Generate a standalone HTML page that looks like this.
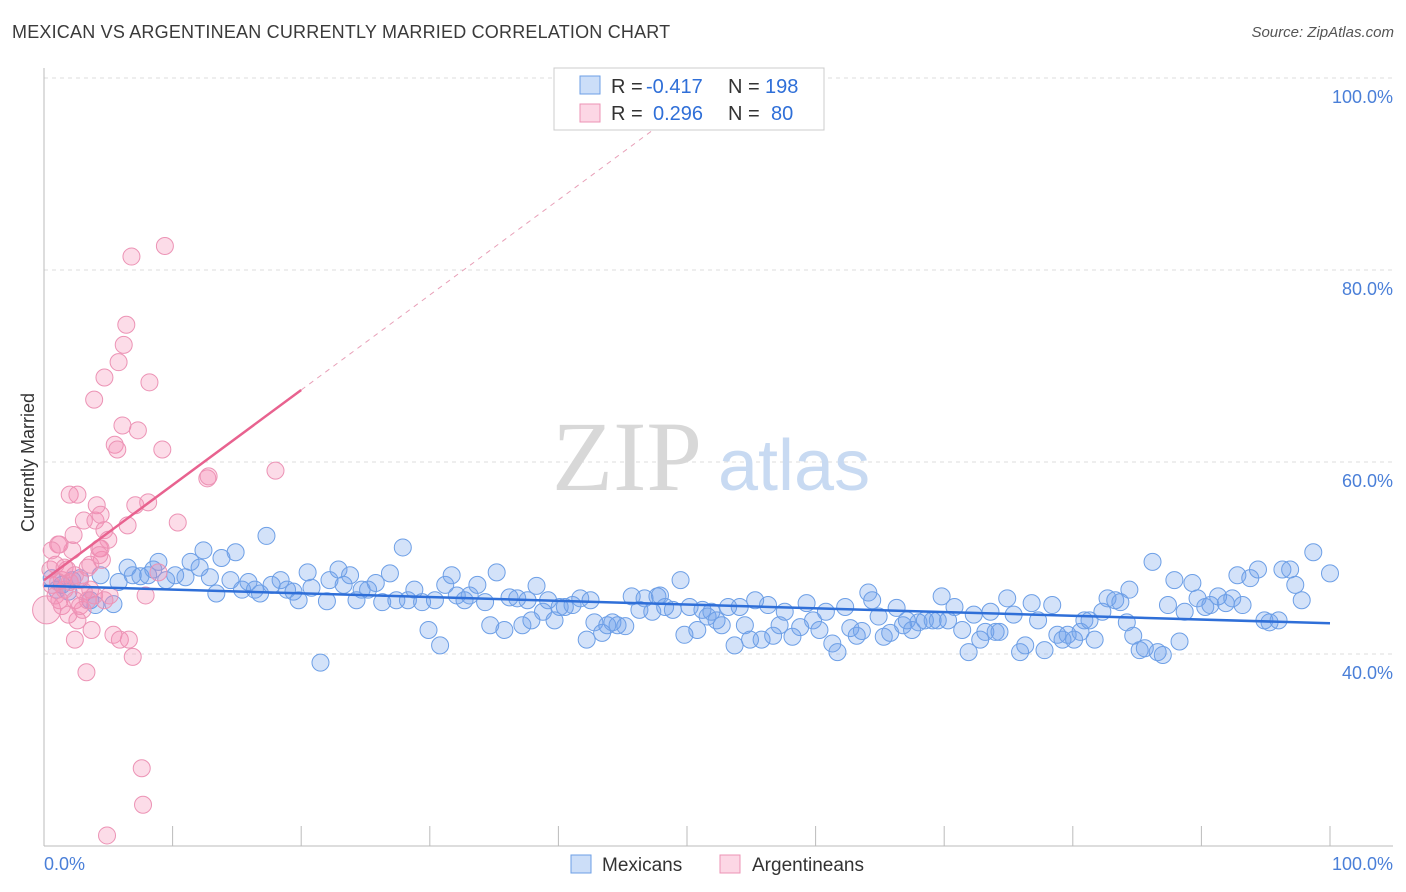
<!DOCTYPE html>
<html><head><meta charset="utf-8">
<style>
body{margin:0;background:#fff;font-family:"Liberation Sans",sans-serif;}
#wrap{position:relative;width:1406px;height:892px;overflow:hidden;}
.t{position:absolute;white-space:nowrap;}
</style></head>
<body>
<div id="wrap">
<div class="t" style="left:12px;top:22px;font-size:18px;color:#3a3a3a;letter-spacing:0.2px">MEXICAN VS ARGENTINEAN CURRENTLY MARRIED CORRELATION CHART</div>
<div class="t" style="right:12px;top:24px;font-size:15px;color:#555;font-style:italic">Source: ZipAtlas.com</div>
<div class="t" style="left:18px;top:532px;font-size:18px;color:#333;transform:rotate(-90deg);transform-origin:0 0">Currently Married</div>
<svg id="svg" width="1406" height="892" style="position:absolute;left:0;top:0"></svg>
</div>
<script>
const yTicks=[100,80,60,40];
const yTickLabels=["100.0%","80.0%","60.0%","40.0%"];
const xLabels=["0.0%","100.0%"];
const blueX=[0.6,1.0,1.4,1.9,2.2,2.8,3.6,4.0,4.4,5.4,5.8,6.5,6.9,7.5,8.1,8.5,8.9,9.5,10.2,11.0,11.4,12.1,12.4,12.9,13.4,13.8,14.5,14.9,15.4,15.9,16.4,16.8,17.3,17.7,18.4,18.9,19.4,19.8,20.5,20.8,21.5,22.0,22.2,22.9,23.3,23.8,24.3,24.7,25.2,25.8,26.3,26.9,27.4,27.9,28.3,28.8,29.4,29.9,30.4,30.8,31.2,31.7,32.1,32.7,33.1,33.7,34.3,34.7,35.2,35.8,36.2,36.8,37.2,37.6,37.9,38.3,38.8,39.2,39.7,40.1,40.5,41.1,41.7,42.2,42.5,42.8,43.4,43.8,44.2,44.6,45.2,45.7,46.3,46.7,47.3,47.7,47.9,48.3,48.9,49.5,49.8,50.2,50.8,51.2,51.6,51.9,52.3,52.7,53.2,53.7,54.1,54.5,54.9,55.3,55.8,56.3,56.7,57.2,57.6,58.2,58.8,59.3,59.8,60.3,60.8,61.3,61.7,62.3,62.7,63.2,63.6,64.1,64.4,64.9,65.3,65.8,66.3,66.8,67.1,67.5,68.0,68.5,69.1,69.5,69.8,70.3,70.8,71.4,71.9,72.3,72.8,73.2,73.6,74.0,74.3,74.9,75.4,75.9,76.3,76.8,77.3,77.8,78.4,78.8,79.2,79.6,80.1,80.6,80.9,81.3,81.7,82.3,82.7,83.3,83.7,84.2,84.4,84.7,85.2,85.6,86.2,86.6,87.0,87.4,87.9,88.3,88.7,89.3,89.7,90.3,90.7,91.3,91.9,92.4,92.8,93.2,93.8,94.4,94.9,95.3,96.0,96.3,96.9,97.3,97.8,98.7,100];
const blueY=[47.9,46.7,47.2,46.5,47.7,47.9,45.6,45.1,48.2,45.2,47.5,49.0,48.2,48.1,48.2,48.8,49.6,47.7,48.2,48.0,49.6,49.0,50.8,48.0,46.3,50.0,47.7,50.6,46.7,47.5,46.7,46.3,52.3,47.2,47.7,46.7,46.5,45.6,48.5,46.9,39.1,45.5,47.7,48.8,47.2,48.2,45.6,46.7,46.7,47.4,45.4,48.4,45.6,51.1,45.6,46.7,45.4,42.5,45.6,40.9,47.2,48.2,46.1,45.6,46.1,47.2,45.4,43.0,48.5,42.5,45.9,45.8,43.0,45.6,43.5,47.1,44.4,45.6,43.5,44.9,44.9,45.1,45.8,41.5,45.6,43.3,42.2,43.0,43.3,43.0,42.9,46.0,44.6,45.8,44.4,46.0,46.1,44.9,44.6,47.7,42.0,44.9,42.5,44.6,43.9,44.4,43.5,43.0,44.9,40.9,44.9,43.0,41.5,45.6,41.5,45.1,41.9,43.0,44.4,41.8,42.8,45.3,43.5,42.5,44.4,41.1,40.2,44.9,42.7,41.9,42.4,46.4,45.6,43.9,41.8,42.2,44.8,43.0,43.5,42.5,43.3,43.5,43.5,43.5,46.0,43.5,44.9,42.5,40.2,44.1,41.5,42.3,44.4,42.3,42.3,45.8,44.1,40.2,40.9,45.3,43.5,40.4,45.1,42.0,41.5,42.0,41.5,42.3,43.5,43.5,41.5,44.4,45.8,45.6,45.4,43.3,46.7,41.9,40.4,40.6,49.6,40.2,39.9,45.1,47.7,41.3,44.4,47.4,45.8,44.9,45.1,46.0,45.3,45.8,48.2,45.1,47.9,48.8,43.5,43.3,43.5,48.8,48.8,47.2,45.6,50.6,48.4];
const pinkX=[0.2,0.5,0.6,0.9,1.1,1.2,1.4,1.6,1.8,2.0,2.2,2.3,2.4,2.6,2.6,2.8,3.0,3.1,3.3,3.4,3.6,3.7,3.9,4.0,4.1,4.3,4.4,4.5,4.7,4.7,5.0,5.1,5.4,5.5,5.7,5.8,5.9,6.1,6.2,6.4,6.5,6.6,6.8,6.9,7.1,7.3,7.6,7.7,7.9,8.1,8.2,8.9,9.2,9.4,10.4,12.7,12.8,18.0,4.9,1.2,1.6,2.0,2.4,3.1,0.9,1.1,1.4,1.9,3.6,4.4,4.7,2.8,3.9,4.3,0.6,2.4,3.4];
const pinkY=[44.6,48.8,47.2,49.3,51.4,45.6,47.7,46.7,48.8,56.6,50.8,52.4,41.5,56.6,43.5,47.7,44.6,53.9,38.1,49.0,46.7,42.5,66.5,53.9,55.5,51.0,54.5,49.8,52.9,68.8,51.9,46.1,42.0,61.8,61.3,70.4,41.5,63.8,72.2,74.3,53.4,41.5,81.4,39.7,55.5,63.3,28.1,24.3,46.1,55.8,68.3,48.5,61.3,82.5,53.7,58.3,58.5,59.1,21.1,51.4,49.0,47.5,45.6,46.5,46.1,47.5,45.0,44.1,49.3,51.0,45.6,45.0,46.1,50.3,50.8,48.2,45.6];
const blueTrend=[47.1,43.2];
const pinkTrend=[47.7,67.5];
const NS="http://www.w3.org/2000/svg";
const svg=document.getElementById('svg');
const X0=44,X1=1330,Y0=846,Y1=78;
function sx(v){return X0+(X1-X0)*v/100;}
function sy(v){return Y0-(Y0-Y1)*(v-20)/80;}
function mk(tag,at,parent){const e=document.createElementNS(NS,tag);for(const k in at)e.setAttribute(k,at[k]);(parent||svg).appendChild(e);return e;}
// grid
yTicks.forEach((t,i)=>{
 const g=mk('line',{x1:X0,x2:1393,y1:sy(t),y2:sy(t),stroke:'#ddd','stroke-dasharray':'4,4'});
 
 
 const tx=mk('text',{x:1393,y:sy(t)+25,'text-anchor':'end','font-size':18,fill:'#4a7fd8','font-family':'Liberation Sans'});
 tx.textContent=yTickLabels[i];
 
 
});
const ax=mk('line',{x1:X0,x2:X0,y1:68,y2:Y0,stroke:'#bbb'});


const bx=mk('line',{x1:X0,x2:1393,y1:Y0,y2:Y0,stroke:'#bbb'});


for(let i=0;i<=10;i++){
 const tk=mk('line',{x1:sx(i*10),x2:sx(i*10),y1:Y0,y2:Y0-20,stroke:'#bbb'});
 
 
}
[[xLabels[0],44,'start'],[xLabels[1],1393,'end']].forEach(a=>{
 const t=mk('text',{x:a[1],y:870,'text-anchor':a[2],'font-size':18,fill:'#4a7fd8','font-family':'Liberation Sans'});
 t.textContent=a[0];
 
 
});
// watermark
const wm=mk('text',{x:552,y:490,'font-size':100,fill:'#d8d8d8','font-family':'Liberation Serif'});
wm.textContent='ZIP';


const wm2=mk('text',{x:718,y:490,'font-size':72,fill:'#c8daf2','font-family':'Liberation Sans'});
wm2.textContent='atlas';


// points
blueX.forEach((x,i)=>{
 const c=mk('circle',{cx:sx(x),cy:sy(blueY[i]),r:8.5,fill:'rgba(110,160,235,0.3)',stroke:'#6d9fe6','stroke-width':1});
 
 
});
pinkX.forEach((x,i)=>{
 const c=mk('circle',{cx:sx(x),cy:sy(pinkY[i]),r:i===0?14:8.5,fill:'rgba(245,140,180,0.3)',stroke:'#ec93b5','stroke-width':1});
 
 
});
// trends
const bl=mk('line',{x1:sx(0),y1:sy(blueTrend[0]),x2:sx(100),y2:sy(blueTrend[1]),stroke:'#2f6fd8','stroke-width':2.5});


const slope=(pinkTrend[1]-pinkTrend[0])/20;
const pl=mk('line',{x1:sx(0),y1:sy(pinkTrend[0]),x2:sx(20),y2:sy(pinkTrend[1]),stroke:'#e8628f','stroke-width':2.5});


const xe=(100-pinkTrend[0])/slope;
const pd=mk('line',{x1:sx(20),y1:sy(pinkTrend[1]),x2:sx(xe),y2:sy(100),stroke:'#e8a0b8','stroke-width':1,'stroke-dasharray':'5,5'});


// legend box
const lg=mk('g',{});


mk('rect',{x:554,y:68,width:270,height:62,fill:'#fff',stroke:'#ccc'},lg);
mk('rect',{x:580,y:76,width:20,height:18,fill:'rgba(110,160,235,0.35)',stroke:'#6d9fe6'},lg);
mk('rect',{x:580,y:104,width:20,height:18,fill:'rgba(245,140,180,0.35)',stroke:'#ec93b5'},lg);
function lt(x,y,s,c){const t=mk('text',{x:x,y:y,'font-size':20,fill:c,'font-family':'Liberation Sans'},lg);t.textContent=s;return t;}
lt(611,93,'R =','#333');lt(646,93,'-0.417','#2f6fd8');lt(728,93,'N =','#333');lt(765,93,'198','#2f6fd8');
lt(611,120,'R =','#333');lt(653,120,'0.296','#2f6fd8');lt(728,120,'N =','#333');lt(771,120,'80','#2f6fd8');
// bottom legend
const bl2=mk('g',{});


mk('rect',{x:571,y:855,width:20,height:18,fill:'rgba(110,160,235,0.35)',stroke:'#6d9fe6'},bl2);
mk('rect',{x:720,y:855,width:20,height:18,fill:'rgba(245,140,180,0.35)',stroke:'#ec93b5'},bl2);
const m1=mk('text',{x:602,y:871,'font-size':19,fill:'#333','font-family':'Liberation Sans'},bl2);m1.textContent='Mexicans';


const m2=mk('text',{x:752,y:871,'font-size':19,fill:'#333','font-family':'Liberation Sans'},bl2);m2.textContent='Argentineans';


</script>
</body></html>
